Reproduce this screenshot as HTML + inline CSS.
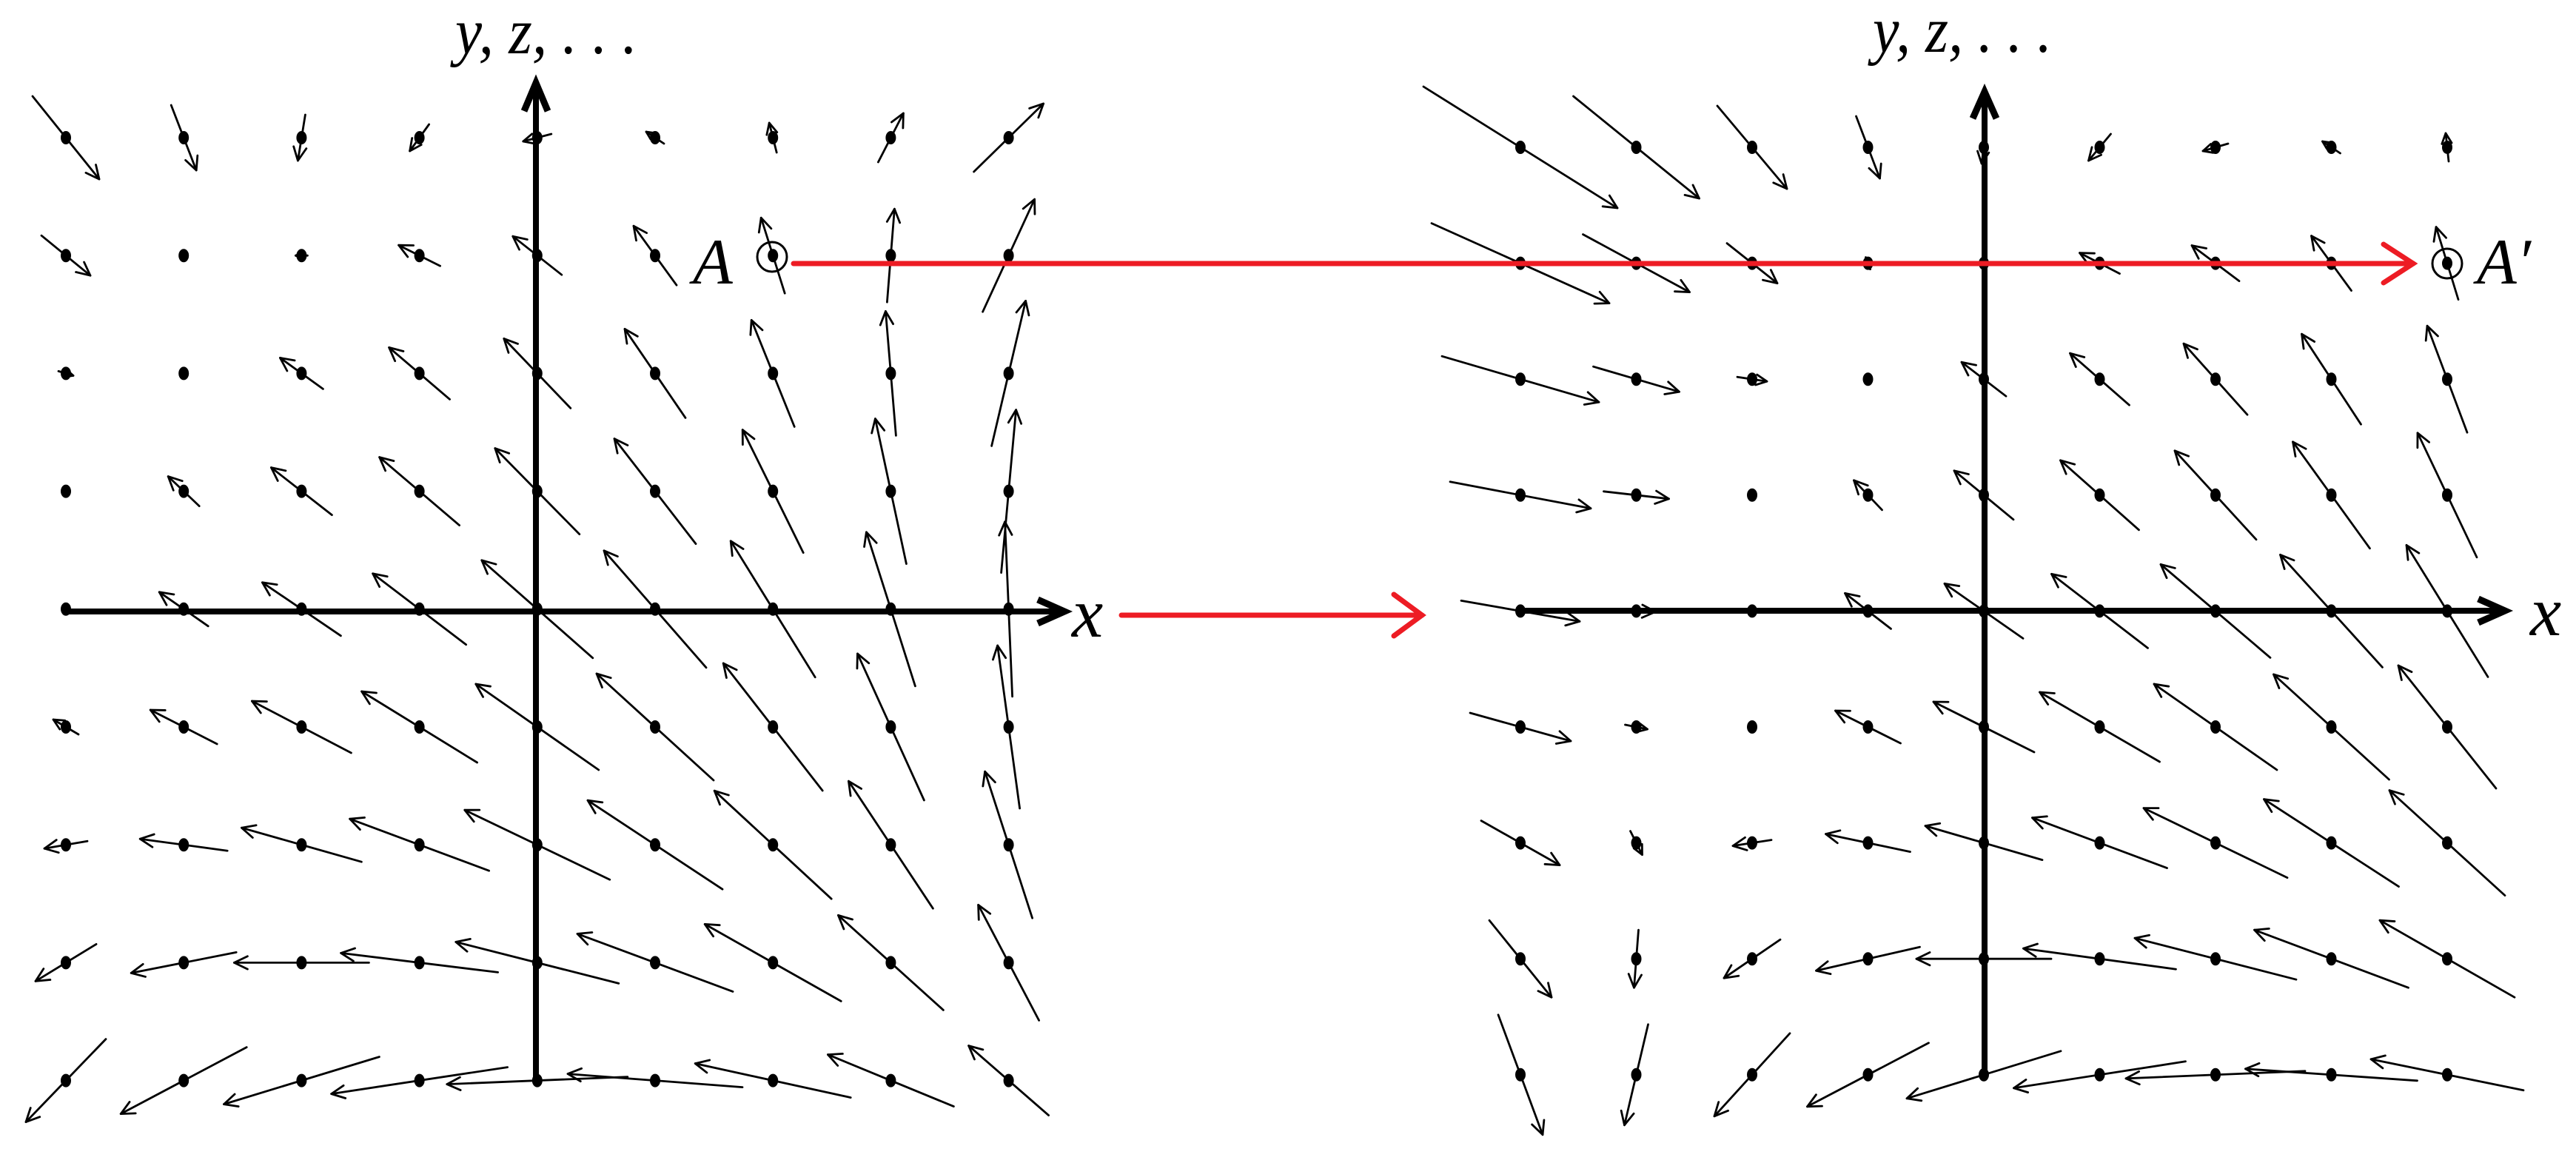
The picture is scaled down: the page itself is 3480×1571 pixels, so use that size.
<!DOCTYPE html>
<html><head><meta charset="utf-8"><style>
html,body{margin:0;padding:0;background:#fff;}
svg{display:block;}
</style></head><body>
<svg id="s" width="3480" height="1571" viewBox="0 0 3480 1571" xmlns="http://www.w3.org/2000/svg">
<rect width="3480" height="1571" fill="#fff"/>
<g id="field" stroke="#000" fill="none" stroke-width="2.8" stroke-linecap="round" stroke-linejoin="round"></g>
<g stroke="#000" stroke-width="8" fill="none" stroke-linecap="butt" stroke-linejoin="miter">
<line x1="724" y1="1460" x2="724" y2="118"/>
<polyline points="708,150 724,112 740,150" stroke-width="9"/>
<line x1="85" y1="826" x2="1432" y2="826"/>
<polyline points="1402,810 1438,826 1402,842" stroke-width="9"/>
<line x1="2681" y1="1452" x2="2681" y2="130"/>
<polyline points="2665,160 2681,124 2697,160" stroke-width="9"/>
<line x1="2054" y1="825" x2="3378" y2="825"/>
<polyline points="3348,809 3384,825 3348,841" stroke-width="9"/>
</g>
<g stroke="#ed1c24" stroke-width="7" fill="none" stroke-linecap="round" stroke-linejoin="miter">
<line x1="1072" y1="356" x2="3260" y2="356"/>
<polyline points="3220,330 3260,356 3220,382"/>
<line x1="1515" y1="831" x2="1921" y2="831"/>
<polyline points="1883,803 1921,831 1883,859"/>
</g>
<g stroke="#000" stroke-width="3" fill="none">
<circle cx="1043" cy="347" r="20"/>
<circle cx="3306" cy="356" r="20"/>
</g>
<g font-family="'Liberation Serif', 'DejaVu Serif', serif" font-style="italic" fill="#000">
<text x="615" y="72" font-size="88" textLength="246" lengthAdjust="spacingAndGlyphs">y, z, . . .</text>
<text x="2530" y="70" font-size="88" textLength="242" lengthAdjust="spacingAndGlyphs">y, z, . . .</text>
<text x="1448" y="860" font-size="95">x</text>
<text x="3418" y="858" font-size="95">x</text>
<text x="936" y="383" font-size="88">A</text>
<text x="3346" y="383" font-size="88">A′</text>
</g>
</svg>
<script>
var L={x0:89,dx:159.2,y0:186,dy:159.2,v:[
[[45,56],[17,44],[-5,31],[-13,18],[-19,5],[-12,-8],[-5,-20],[17,-33],[47,-46]],
[[33,27],[0,3],[-8,0],[-28,-14],[-33,-26],[-29,-40],[-16,-51],[5,-63],[35,-76]],
[[10,3],[0,3],[-29,-21],[-41,-35],[-45,-47],[-41,-60],[-29,-72],[-7,-84],[23,-98]],
[[0,4],[-21,-20],[-41,-32],[-54,-46],[-57,-58],[-55,-71],[-41,-83],[-21,-98],[10,-110]],
[[-4,0],[-33,-23],[-53,-36],[-63,-48],[-75,-66],[-69,-79],[-57,-92],[-33,-104],[-5,-118]],
[[-17,-10],[-45,-23],[-67,-35],[-78,-48],[-83,-58],[-79,-72],[-67,-86],[-45,-99],[-15,-110]],
[[-29,5],[-59,-8],[-81,-23],[-94,-35],[-98,-47],[-91,-60],[-79,-73],[-57,-86],[-32,-99]],
[[-41,25],[-71,14],[-91,0],[-106,-13],[-110,-28],[-105,-39],[-92,-52],[-71,-64],[-41,-78]],
[[-54,56],[-85,45],[-105,32],[-119,18],[-122,5],[-118,-9],[-105,-23],[-85,-35],[-54,-47]]
]};
var R={x0:2054,dx:156.5,y0:199,dy:156.6,v:[
[[131,82],[85,69],[47,56],[16,42],[-3,22],[-15,18],[-17,5],[-12,-8],[-2,-19]],
[[120,54],[72,39],[34,27],[3,8],[0,3],[-27,-14],[-32,-24],[-27,-37],[-15,-49]],
[[106,31],[58,17],[20,3],[0,3],[-30,-23],[-40,-35],[-43,-48],[-40,-61],[-27,-72]],
[[95,18],[44,5],[0,3],[-19,-20],[-40,-33],[-53,-47],[-55,-60],[-52,-72],[-40,-84]],
[[80,14],[26,1],[0,3],[-31,-24],[-53,-37],[-65,-50],[-74,-63],[-69,-76],[-55,-89]],
[[68,19],[15,3],[0,3],[-44,-22],[-68,-34],[-81,-47],[-83,-58],[-78,-71],[-66,-83]],
[[53,30],[8,16],[-26,4],[-57,-12],[-79,-23],[-91,-34],[-97,-47],[-91,-59],[-78,-71]],
[[42,52],[-3,39],[-38,26],[-70,16],[-91,0],[-103,-14],[-109,-28],[-104,-39],[-91,-52]],
[[30,81],[-16,68],[-51,56],[-82,43],[-104,32],[-116,18],[-121,5],[-116,-8],[-103,-21]]
]};
var g=document.getElementById('field'),out='';
function draw(F){
 for(var j=0;j<9;j++)for(var i=0;i<9;i++){
  var cx=F.x0+F.dx*i,cy=F.y0+F.dy*j,d=F.v[j][i],ux=d[0],uy=d[1];
  var hx=cx+ux,hy=cy+uy,tx=cx-ux,ty=cy-uy,len=Math.hypot(ux,uy);
  out+='<line x1="'+tx+'" y1="'+ty+'" x2="'+hx+'" y2="'+hy+'"/>';
  if(len>6){
   var a=Math.atan2(uy,ux),h=Math.min(20,len*0.8),s=0.45;
   out+='<polyline points="'+(hx-h*Math.cos(a-s))+','+(hy-h*Math.sin(a-s))+' '+hx+','+hy+' '+(hx-h*Math.cos(a+s))+','+(hy-h*Math.sin(a+s))+'"/>';
  }
  out+='<ellipse cx="'+cx+'" cy="'+cy+'" rx="7" ry="9" fill="#000" stroke="none"/>';
 }
}
draw(L);draw(R);
g.innerHTML=out;
</script>
</body></html>
